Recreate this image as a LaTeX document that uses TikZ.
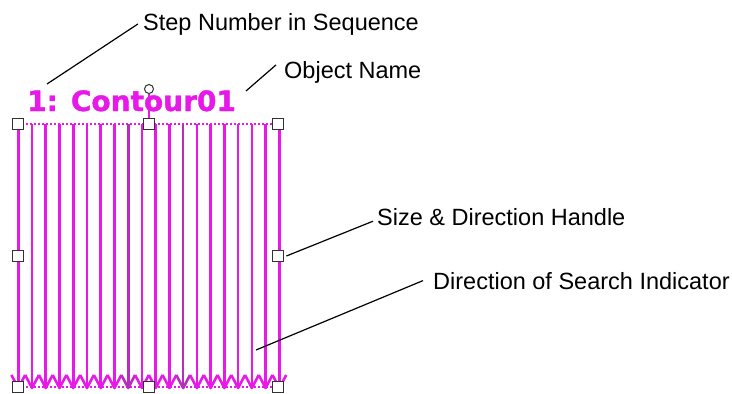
\documentclass[tikz,border=0pt]{standalone}
\usepackage{fontspec}
\setmainfont{Liberation Sans}
\newfontfamily\verdfont[BoldFeatures={FakeBold=1.2}]{DejaVu Sans}
\usetikzlibrary{calc}
\definecolor{mag}{RGB}{232,24,232}
\definecolor{magd}{RGB}{185,45,190}
\definecolor{hgray}{RGB}{50,50,50}
\pgfdeclarelayer{bg}
\pgfsetlayers{bg,main}
\begin{document}
\begin{tikzpicture}[x=1pt,y=-1pt,
  handle/.style={draw=hgray, fill=white, line width=1.3pt, minimum size=10.5pt, inner sep=0pt, rectangle},
  rothandle/.style={draw=hgray, fill=white, line width=1pt, circle, minimum size=9pt, inner sep=0pt},
  lbl/.style={font=\fontsize{23.5}{26}\selectfont, inner sep=0pt, anchor=base west, text=black},
  leader/.style={draw=black, line width=1.2pt},
  scan/.style={draw=mag, line width=2.6pt, line join=round},
  dotline/.style={draw=mag, line width=2.4pt, dash pattern=on 2pt off 2pt},
  stem/.style={draw=mag, line width=2.4pt},
  titletext/.style={font=\verdfont\bfseries\fontsize{28}{30}\selectfont, text=mag, anchor=base west, inner sep=0pt}
]
\useasboundingbox (0,0) rectangle (732,394);

% object name
\node[titletext] (title) at (27,111) {1: Contour01};

% handles
\node[handle] (hTL) at (18,124) {};
\node[handle] (hTM) at (149,124) {};
\node[handle] (hTR) at (278,124) {};
\node[handle] (hML) at (18,256) {};
\node[handle] (hMR) at (278,256) {};
\node[handle] (hBL) at (18,387) {};
\node[handle] (hBM) at (149,387) {};
\node[handle] (hBR) at (278,387) {};
\node[rothandle] (hRot) at (149,89) {};

\begin{pgfonlayer}{bg}
  \draw[dotline] (hTL.center) -- (hTR.center);
  \draw[dotline] (hBL.center) -- (hBR.center);
  \foreach \i in {0,...,19} {
    \pgfmathsetmacro\xx{18.3+13.74*\i}
    \ifnum\i=8 \def\cc{magd}\else\ifnum\i=12 \def\cc{magd}\else\def\cc{mag}\fi\fi
    \draw[scan, draw=\cc] (\xx,124) -- (\xx,387);
    \draw[scan, draw=\cc] (\xx-6.87,375) -- (\xx,388) -- (\xx+6.87,375);
  }
\end{pgfonlayer}
\draw[stem] (hRot.south) -- (hTM.north);

% labels
\node[lbl] (lstep) at (143,30) {Step Number in Sequence};
\node[lbl] (lobj) at (284,78) {Object Name};
\node[lbl] (lsize) at (377,225) {Size \& Direction Handle};
\node[lbl] (ldir) at (433,289) {Direction of Search Indicator};

% leader lines
\coordinate (pstep) at (47,84);
\coordinate (pobj) at (246,91);
\coordinate (pdir) at (256,350);
\draw[leader] (pstep) -- ([xshift=-5pt]lstep.west);
\draw[leader] (pobj) -- ([shift={(-8,-7)}]lobj.west);
\draw[leader] ([xshift=2.5pt]hMR.east) -- ([shift={(-4,4.6)}]lsize.west);
\draw[leader] (pdir) -- ([xshift=-10pt]ldir.west);
\end{tikzpicture}
\end{document}
